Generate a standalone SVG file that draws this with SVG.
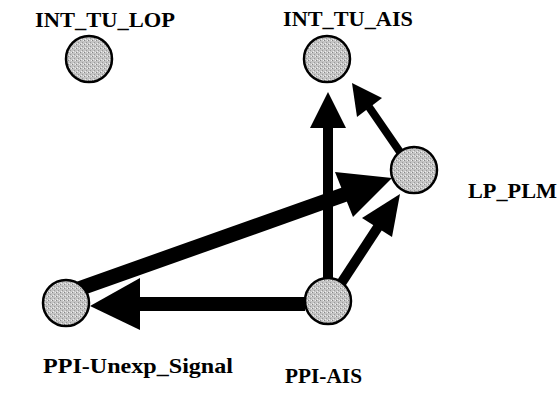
<svg xmlns="http://www.w3.org/2000/svg" width="559" height="396" viewBox="0 0 559 396">
<style>
.node circle{stroke:#000;stroke-width:2.5}
.lbl{font-weight:bold;font-size:22px;fill:#000}
.edge line{stroke:#000;stroke-linecap:butt}
.edge polygon{fill:#000}
</style>
<defs>
<pattern id="stip" width="4" height="4" patternUnits="userSpaceOnUse">
<rect width="4" height="4" fill="#c4c4c4"/>
<rect x="0" y="0" width="1" height="1" fill="#888"/>
<rect x="2" y="2" width="1" height="1" fill="#999"/>
<rect x="3" y="0" width="1" height="1" fill="#eee"/>
<rect x="1" y="3" width="1" height="1" fill="#eee"/>
</pattern>
</defs>
<rect width="559" height="396" fill="#fff"/>
<g id="connectors" class="edge">
<line x1="328" y1="280" x2="328" y2="125" stroke-width="10"/>
<polygon points="328,92 346,128 310,128"/>
<line x1="400" y1="152" x2="369" y2="107" stroke-width="8"/>
<polygon points="352,83 382,98 357,117"/>
<line x1="70" y1="292" x2="346" y2="194" stroke-width="15"/>
<polygon points="392,178 335,172 353,217"/>
<line x1="340" y1="285" x2="378" y2="227" stroke-width="10"/>
<polygon points="400,194 362,218 392,237"/>
<line x1="305" y1="304" x2="138" y2="304" stroke-width="14"/>
<polygon points="90,306 140,278 140,330"/>
</g>
<g font-family="Liberation Serif, Times New Roman, serif">
<g id="INT_TU_LOP" class="node">
<circle cx="89" cy="59" r="23" fill="url(#stip)"/>
<text class="lbl" x="35" y="27" textLength="140" lengthAdjust="spacingAndGlyphs">INT_TU_LOP</text>
</g>
<g id="INT_TU_AIS" class="node">
<circle cx="327" cy="59" r="23" fill="url(#stip)"/>
<text class="lbl" x="283" y="26" textLength="130" lengthAdjust="spacingAndGlyphs">INT_TU_AIS</text>
</g>
<g id="LP_PLM" class="node">
<circle cx="414" cy="170" r="23" fill="url(#stip)"/>
<text class="lbl" x="468" y="198" textLength="89" lengthAdjust="spacingAndGlyphs">LP_PLM</text>
</g>
<g id="PPI-AIS" class="node">
<circle cx="328" cy="301" r="23" fill="url(#stip)"/>
<text class="lbl" x="285" y="383" textLength="77" lengthAdjust="spacingAndGlyphs">PPI-AIS</text>
</g>
<g id="PPI-Unexp_Signal" class="node">
<circle cx="66" cy="303" r="23" fill="url(#stip)"/>
<text class="lbl" x="43" y="373" textLength="190" lengthAdjust="spacingAndGlyphs">PPI-Unexp_Signal</text>
</g>
</g>
</svg>
